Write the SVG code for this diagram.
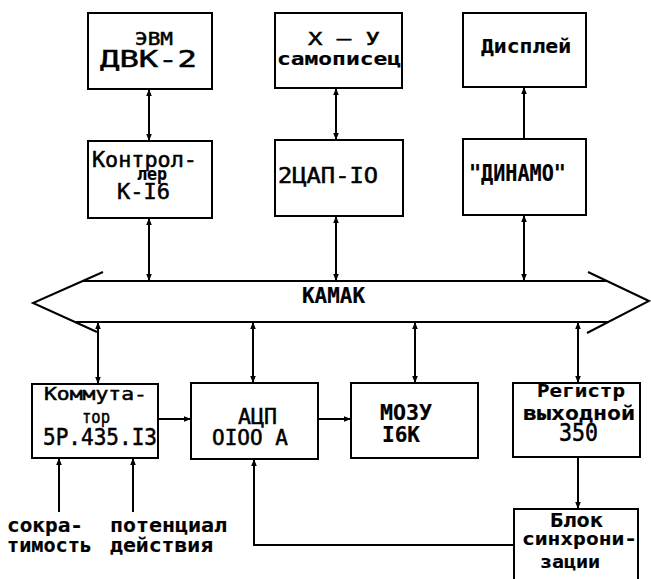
<svg xmlns="http://www.w3.org/2000/svg" width="651" height="579" viewBox="0 0 651 579">
<style>
.box{fill:#fff;stroke:#000;stroke-width:2}
.ln{fill:none;stroke:#000;stroke-width:2}
text{font-family:"DejaVu Sans Mono","Liberation Mono",monospace;fill:#000;stroke:#000;stroke-width:0.5}
.b{font-weight:bold;stroke-width:0.2}
</style>
<defs>
<marker id="ah" viewBox="0 0 10 10" refX="10" refY="5" markerWidth="7" markerHeight="9" markerUnits="userSpaceOnUse" orient="auto-start-reverse">
<path d="M0,1 L10,5 L0,9 z" fill="#000"/>
</marker>
</defs>
<rect width="651" height="579" fill="#fff"/>
<g id="connectors" class="ln">
<path d="M149,89 V141" marker-start="url(#ah)" marker-end="url(#ah)"/>
<path d="M336,88 V140" marker-start="url(#ah)" marker-end="url(#ah)"/>
<path d="M524,87 V139" marker-start="url(#ah)"/>
<path d="M149,218 V281" marker-start="url(#ah)" marker-end="url(#ah)"/>
<path d="M336,216 V281" marker-start="url(#ah)" marker-end="url(#ah)"/>
<path d="M524,215 V281" marker-start="url(#ah)" marker-end="url(#ah)"/>
<path d="M98,322 V384" marker-start="url(#ah)" marker-end="url(#ah)"/>
<path d="M253,322 V383" marker-start="url(#ah)" marker-end="url(#ah)"/>
<path d="M415,322 V383" marker-start="url(#ah)" marker-end="url(#ah)"/>
<path d="M578,322 V383" marker-start="url(#ah)" marker-end="url(#ah)"/>
<path d="M158,419 H191" marker-end="url(#ah)"/>
<path d="M318,419 H351" marker-end="url(#ah)"/>
<path d="M578,457 V509" marker-end="url(#ah)"/>
<path d="M514,545 H254 V459" marker-end="url(#ah)"/>
<path d="M59,512 V458" marker-end="url(#ah)"/>
<path d="M133,512 V458" marker-end="url(#ah)"/>
</g>
<g id="bus" class="ln">
<path d="M103,272 L33,303 L97,332"/>
<path d="M83,281 H607"/>
<path d="M76,322 H609"/>
<path d="M588,272 L649,301 L587,333"/>
<text class="b" x="302" y="303" font-size="21" textLength="63" lengthAdjust="spacingAndGlyphs">КАМАК</text>
</g>
<g id="evm">
<rect class="box" x="88" y="13" width="124" height="76"/>
<text x="135" y="45" font-size="18" textLength="38" lengthAdjust="spacingAndGlyphs">ЭВМ</text>
<text x="100" y="67" font-size="23" textLength="97" lengthAdjust="spacingAndGlyphs">ДВК-2</text>
</g>
<g id="xy">
<rect class="box" x="275" y="13" width="127" height="75"/>
<text x="308" y="45" font-size="18" textLength="72" lengthAdjust="spacingAndGlyphs">X – У</text>
<text class="b" x="277" y="65" font-size="18" textLength="124" lengthAdjust="spacingAndGlyphs">самописец</text>
</g>
<g id="display">
<rect class="box" x="463" y="13" width="123" height="74"/>
<text class="b" x="481" y="53" font-size="20" textLength="90" lengthAdjust="spacingAndGlyphs">Дисплей</text>
</g>
<g id="controller">
<rect class="box" x="88" y="141" width="124" height="77"/>
<text x="92" y="167" font-size="21" textLength="105" lengthAdjust="spacingAndGlyphs">Контрол-</text>
<text class="b" x="137" y="180" font-size="17" textLength="30" lengthAdjust="spacingAndGlyphs">лер</text>
<text x="117" y="199" font-size="22" textLength="53" lengthAdjust="spacingAndGlyphs">К-I6</text>
</g>
<g id="dac">
<rect class="box" x="275" y="140" width="128" height="76"/>
<text x="278" y="183" font-size="21" textLength="100" lengthAdjust="spacingAndGlyphs">2ЦАП-IO</text>
</g>
<g id="dinamo">
<rect class="box" x="463" y="139" width="123" height="76"/>
<text class="b" x="469" y="181" font-size="23" textLength="97" lengthAdjust="spacingAndGlyphs">"ДИНАМО"</text>
</g>
<g id="commutator">
<rect class="box" x="32" y="384" width="126" height="74"/>
<text x="44" y="400" font-size="18" textLength="103" lengthAdjust="spacingAndGlyphs">Коммута-</text>
<text x="82" y="423" font-size="18" textLength="28" lengthAdjust="spacingAndGlyphs">тор</text>
<text x="43" y="445" font-size="23" textLength="114" lengthAdjust="spacingAndGlyphs">5P.435.I3</text>
</g>
<g id="adc">
<rect class="box" x="191" y="383" width="127" height="76"/>
<text x="238" y="424" font-size="21" textLength="39" lengthAdjust="spacingAndGlyphs">АЦП</text>
<text x="212" y="445" font-size="21" textLength="76" lengthAdjust="spacingAndGlyphs">OIOO A</text>
</g>
<g id="mozu">
<rect class="box" x="351" y="383" width="127" height="75"/>
<text class="b" x="380" y="420" font-size="21" textLength="52" lengthAdjust="spacingAndGlyphs">МОЗУ</text>
<text class="b" x="382" y="442" font-size="21" textLength="38" lengthAdjust="spacingAndGlyphs">I6K</text>
</g>
<g id="register">
<rect class="box" x="513" y="383" width="127" height="74"/>
<text class="b" x="537" y="397" font-size="18" textLength="88" lengthAdjust="spacingAndGlyphs">Регистр</text>
<text class="b" x="523" y="420" font-size="19" textLength="112" lengthAdjust="spacingAndGlyphs">выходной</text>
<text x="559" y="441" font-size="24" textLength="39" lengthAdjust="spacingAndGlyphs">350</text>
</g>
<g id="sync">
<rect class="box" x="514" y="509" width="124" height="80"/>
<text class="b" x="550" y="527" font-size="19" textLength="53" lengthAdjust="spacingAndGlyphs">Блок</text>
<text class="b" x="522" y="545" font-size="18" textLength="115" lengthAdjust="spacingAndGlyphs">синхрони-</text>
<text class="b" x="540" y="568" font-size="18" textLength="60" lengthAdjust="spacingAndGlyphs">зации</text>
</g>
<g id="inputs">
<text class="b" x="7" y="532" font-size="20" textLength="76" lengthAdjust="spacingAndGlyphs">сокра-</text>
<text class="b" x="7" y="552" font-size="20" textLength="85" lengthAdjust="spacingAndGlyphs">тимость</text>
<text class="b" x="110" y="532" font-size="20" textLength="117" lengthAdjust="spacingAndGlyphs">потенциал</text>
<text class="b" x="110" y="552" font-size="20" textLength="103" lengthAdjust="spacingAndGlyphs">действия</text>
</g>
</svg>
